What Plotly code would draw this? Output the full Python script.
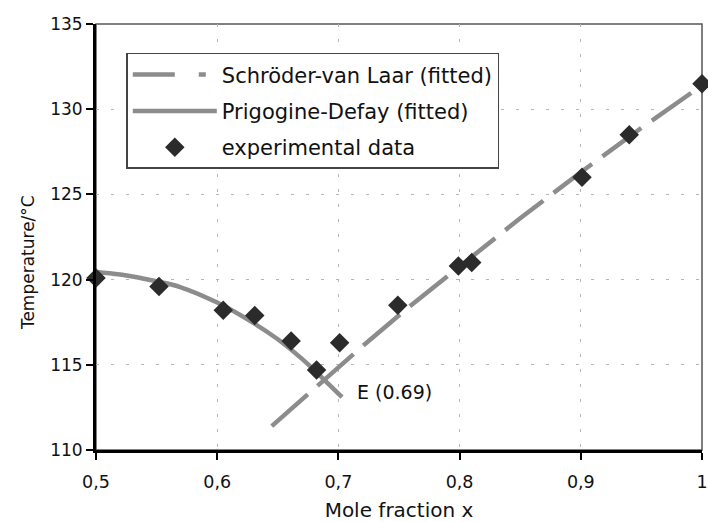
import plotly.graph_objects as go

# experimental data
exp_x = [0.5, 0.552, 0.605, 0.631, 0.661, 0.682, 0.701, 0.749, 0.799, 0.81, 0.901, 0.94, 1.0]
exp_y = [120.1, 119.6, 118.2, 117.9, 116.4, 114.7, 116.3, 118.5, 120.8, 121.0, 126.0, 128.5, 131.5]

# Prigogine-Defay (fitted)
pd_x = [0.50, 0.52, 0.55, 0.57, 0.60, 0.63, 0.65, 0.67, 0.69, 0.703]
pd_y = [120.45, 120.3, 119.9, 119.55, 118.65, 117.45, 116.5, 115.35, 114.0, 113.1]

# Schröder-van Laar (fitted)
svl_x = [0.645, 0.68, 0.72, 0.76, 0.80, 0.85, 0.90, 0.95, 1.0]
svl_y = [111.4, 113.6, 116.1, 118.5, 120.8, 123.6, 126.3, 128.9, 131.4]

x_ticks = [0.5, 0.6, 0.7, 0.8, 0.9, 1.0]
x_ticktext = ["0,5", "0,6", "0,7", "0,8", "0,9", "1"]
y_ticks = [110, 115, 120, 125, 130, 135]

FONT = "DejaVu Sans, Liberation Sans, Arial, sans-serif"
LINE_GRAY = "#8c8c8c"
TXT = "#111"

fig = go.Figure()

fig.add_trace(go.Scatter(
    x=svl_x, y=svl_y, mode="lines", name="Schröder-van Laar (fitted)",
    line=dict(color=LINE_GRAY, width=4.5, dash="48px,13px"),
    showlegend=False, legendgroup="a",
))
fig.add_trace(go.Scatter(
    x=[None], y=[None], mode="lines", name="Schröder-van Laar (fitted)",
    line=dict(color=LINE_GRAY, width=4.5, dash="42px,24px,7px,20px"),
    legendgroup="a",
))
fig.add_trace(go.Scatter(
    x=pd_x, y=pd_y, mode="lines", name="Prigogine-Defay (fitted)",
    line=dict(color=LINE_GRAY, width=4.5, shape="spline"),
    legendgroup="b",
))
fig.add_trace(go.Scatter(
    x=exp_x, y=exp_y, mode="markers", name="experimental data",
    marker=dict(symbol="diamond", size=15, color="#2b2b2b"),
    cliponaxis=False, legendgroup="c",
))

fig.add_annotation(
    x=0.7135, y=113.4, text="E (0.69)", showarrow=False,
    xanchor="left", yanchor="middle",
    font=dict(family=FONT, size=19, color=TXT),
)
fig.add_annotation(
    xref="paper", yref="paper", x=-0.113, y=0.44, text="Temperature/°C",
    showarrow=False, textangle=-90, xanchor="center", yanchor="middle",
    font=dict(family=FONT, size=17, color=TXT),
)

# thin frame (top/right)
fig.add_shape(type="rect", xref="paper", yref="paper", x0=0, y0=0, x1=1, y1=1,
              line=dict(color="#555", width=1.5), layer="below")

fig.update_layout(
    width=708, height=522,
    margin=dict(l=96, r=6, t=24, b=72),
    paper_bgcolor="white", plot_bgcolor="white",
    separators=", ",
    font=dict(family=FONT, size=17, color=TXT),
    legend=dict(
        x=0.05, y=0.932, xanchor="left", yanchor="top",
        bordercolor="#444", borderwidth=1.5, bgcolor="white",
        font=dict(family=FONT, size=21, color=TXT),
        tracegroupgap=6, traceorder="grouped", itemwidth=84,
    ),
    xaxis=dict(
        range=[0.5, 1.0], tickvals=x_ticks, ticktext=x_ticktext,
        showline=True, linecolor="black", linewidth=3,
        ticks="outside", ticklen=7, tickwidth=2, tickcolor="black",
        showgrid=True, gridcolor="#b5b5b5", gridwidth=1, griddash="3px,12px",
        zeroline=False, automargin=False, ticklabeloverflow="allow",
        ticklabelstandoff=7,
        title=dict(text="Mole fraction x", font=dict(family=FONT, size=20, color=TXT), standoff=15),
        tickfont=dict(family=FONT, size=17.5, color=TXT),
    ),
    yaxis=dict(
        range=[110, 135], tickvals=y_ticks,
        showline=True, linecolor="black", linewidth=3,
        ticks="outside", ticklen=7, tickwidth=2, tickcolor="black",
        showgrid=True, gridcolor="#b5b5b5", gridwidth=1, griddash="3px,12px",
        zeroline=False, automargin=False,
        tickfont=dict(family=FONT, size=17, color=TXT),
    ),
)

fig.write_html("out.html", config={"displayModeBar": False},
               post_script="document.body.style.margin='0';")
